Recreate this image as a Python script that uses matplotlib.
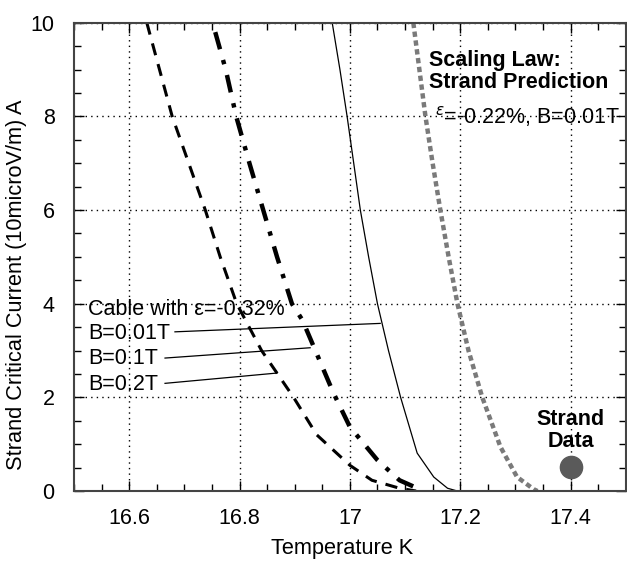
import numpy as np
import matplotlib
matplotlib.use('Agg')
import matplotlib.pyplot as plt
from matplotlib.ticker import MultipleLocator

plt.rcParams['font.family'] = ['Liberation Sans', 'DejaVu Sans']

# Cable, B = 0.2T (dashed)
t_b02 = [16.632, 16.655, 16.678, 16.708, 16.738, 16.765, 16.795, 16.84, 16.898, 16.94, 17.0, 17.04, 17.09, 17.12]
i_b02 = [10.0, 9.0, 8.0, 7.0, 6.0, 5.0, 4.0, 3.0, 2.0, 1.2, 0.55, 0.23, 0.06, 0.0]

# Cable, B = 0.1T (dash-dot)
t_b01 = [16.756, 16.775, 16.794, 16.818, 16.843, 16.868, 16.895, 16.914, 16.97, 17.0, 17.05, 17.09, 17.13]
i_b01 = [9.8, 9.0, 8.0, 7.0, 6.0, 5.0, 4.0, 3.65, 2.1, 1.37, 0.66, 0.23, 0.02]

# Cable, B = 0.01T (thin solid)
t_b001 = [16.968, 16.982, 16.995, 17.007, 17.019, 17.034, 17.05, 17.07, 17.092, 17.122, 17.152, 17.177, 17.195]
i_b001 = [10.0, 9.0, 8.0, 7.0, 6.0, 5.0, 4.0, 3.0, 2.0, 0.81, 0.3, 0.06, 0.0]

# Scaling law, strand prediction (gray dotted)
t_sl = [17.115, 17.126, 17.137, 17.15, 17.164, 17.179, 17.195, 17.215, 17.24, 17.273, 17.303, 17.333, 17.34]
i_sl = [10.0, 9.0, 8.0, 7.0, 6.0, 5.0, 4.0, 3.0, 2.0, 0.94, 0.3, 0.04, 0.0]

# Strand data point
t_strand = [17.4]
i_strand = [0.51]

fig = plt.figure(figsize=(6.27, 5.69), dpi=100, facecolor='white')
ax = fig.add_axes([0.118, 0.137, 0.88, 0.823])

ax.plot(t_b02, i_b02, color='black', lw=2.2, dashes=(4, 3))
ax.plot(t_b01, i_b01, color='black', lw=3.2, dashes=(4, 2.5, 1, 2.5))
ax.plot(t_b001, i_b001, color='black', lw=0.9)
ax.plot(t_sl, i_sl, color='#7a7a7a', lw=3.2, dashes=(1.2, 0.8))
ax.plot(t_strand, i_strand, 'o', color='#5a5a5a', markersize=16)

# leader lines for the cable labels
ax.plot([16.683, 17.055], [3.40, 3.58], color='black', lw=0.9)
ax.plot([16.665, 16.928], [2.84, 3.06], color='black', lw=0.9)
ax.plot([16.665, 16.868], [2.30, 2.52], color='black', lw=0.9)

fs = 15.5
ax.text(16.525, 3.87, 'Cable with \u03b5=-0.32%', fontsize=fs, va='center', ha='left')
ax.text(16.525, 3.37, 'B=0.01T', fontsize=fs, va='center', ha='left')
ax.text(16.525, 2.82, 'B=0.1T', fontsize=fs, va='center', ha='left')
ax.text(16.525, 2.27, 'B=0.2T', fontsize=fs, va='center', ha='left')

ax.text(17.144, 9.42, 'Scaling Law:\nStrand Prediction', fontsize=fs, fontweight='bold',
        va='top', ha='left', linespacing=1.05)
ax.text(17.155, 8.0, '$^{\u03b5}$=-0.22%, B=0.01T', fontsize=fs, va='center', ha='left')

ax.text(17.4, 1.3, 'Strand\nData', fontsize=fs, fontweight='bold', va='center', ha='center',
        linespacing=1.05)

ax.set_xlim(16.5, 17.5)
ax.set_ylim(0, 10)
ax.set_xticks([16.6, 16.8, 17.0, 17.2, 17.4])
ax.set_xticklabels(['16.6', '16.8', '17', '17.2', '17.4'])
ax.set_yticks([0, 2, 4, 6, 8, 10])
ax.xaxis.set_minor_locator(MultipleLocator(0.05))
ax.yaxis.set_minor_locator(MultipleLocator(0.5))
ax.tick_params(which='both', direction='in', top=True, right=True, labelsize=15.5)
ax.tick_params(axis='x', pad=12)
ax.tick_params(axis='y', pad=14)
ax.tick_params(which='major', length=7.5, width=1)
ax.tick_params(which='minor', length=5, width=1)
ax.grid(which='major', color='black', linestyle=(0, (1, 3)), lw=1)

for s in ax.spines.values():
    s.set_color('#444444')
    s.set_linewidth(1.5)

ax.set_xlabel('Temperature K', fontsize=15.7)
ax.set_ylabel('Strand Critical Current (10microV/m) A', fontsize=15.7)
ax.xaxis.set_label_coords(0.486, -0.1)
ax.yaxis.set_label_coords(-0.086, 0.44)

plt.savefig('out.png', dpi=100)
